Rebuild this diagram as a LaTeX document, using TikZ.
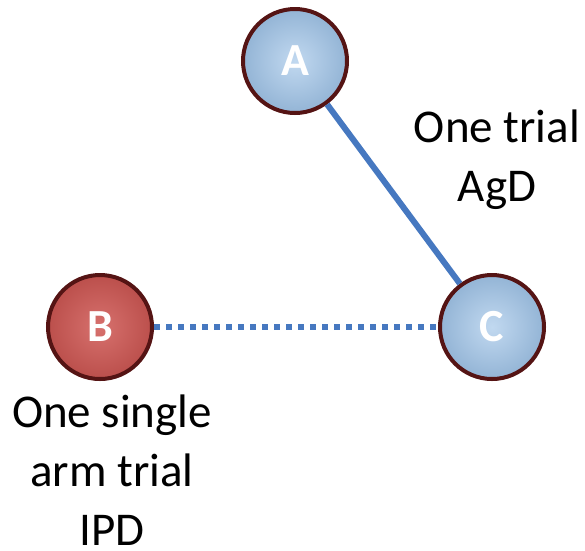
\documentclass[tikz,border=0pt]{standalone}
\usepackage{fontspec}
\setmainfont{Carlito}
\usepackage{tikz}
\usetikzlibrary{positioning}
\definecolor{nmablue}{RGB}{70,120,192}
\definecolor{nmalight}{RGB}{160,196,232}
\definecolor{nmared}{RGB}{208,88,84}
\definecolor{nmarim}{RGB}{85,20,20}
\tikzstyle{trt} = [circle, minimum size=104pt, inner sep=0pt, draw=nmarim, line width=4pt, text=white, font=\fontsize{46}{50}\selectfont\bfseries]
\tikzstyle{link} = [line width=6pt, color=nmablue]
\tikzstyle{lbl} = [align=center, inner sep=0pt, text depth=0pt, anchor=south, font=\fontsize{47}{59}\selectfont]

\begin{document}
\begin{tikzpicture}[x=1pt,y=-1pt]
\useasboundingbox (0,0) rectangle (585,550);
% Treatment nodes
\node (A) [trt, inner color=nmalight!65!white, outer color=nmalight!92!black] at (295,61) {A};
\node (B) [trt, inner color=nmared!85!white, outer color=nmared!90!black] at (100,327) {B};
\node (C) [trt, inner color=nmalight!65!white, outer color=nmalight!92!black] at (492,327) {C};

% Evidence links
\draw[link] (A) -- (C);
\draw[link, dash pattern=on 6pt off 6pt] (B) -- (C);

% Evidence labels (anchored at last baseline)
\node (agd) [lbl] at (497,202) {One trial\\AgD};
\node (ipd) [lbl] at (112,546) {One single\\arm trial\\IPD};
\end{tikzpicture}
\end{document}
